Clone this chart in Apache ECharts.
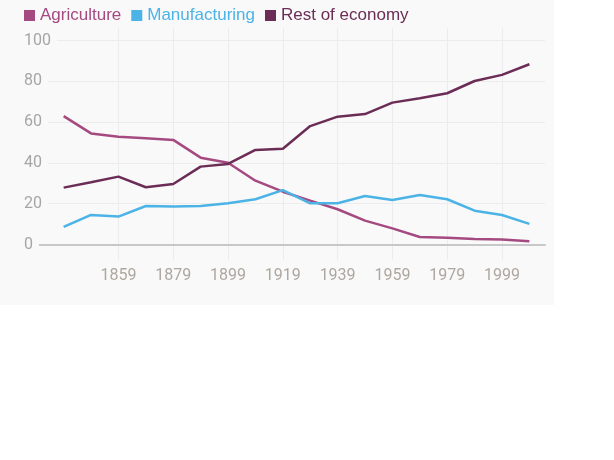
<!DOCTYPE html>
<html>
<head>
<meta charset="utf-8">
<script src="https://cdn.jsdelivr.net/npm/echarts@6/dist/echarts.min.js"></script>
<style>
  html, body { margin: 0; padding: 0; background: #ffffff; }
  #chart { position: absolute; left: 0; top: 0; width: 554px; height: 305px; }
</style>
</head>
<body>
<div id="chart"></div>
<script>
const years = [1839, 1849, 1859, 1869, 1879, 1889, 1899, 1909, 1919, 1929, 1939, 1949, 1959, 1969, 1979, 1989, 1999, 2009];
const agriculture = [63.0, 54.5, 52.9, 52.1, 51.3, 42.6, 40.1, 31.3, 25.9, 21.5, 17.3, 11.7, 7.9, 3.7, 3.3, 2.7, 2.4, 1.6];
const manufacturing = [8.6, 14.5, 13.7, 18.9, 18.6, 18.9, 20.2, 22.2, 26.7, 20.2, 20.2, 23.8, 21.8, 24.3, 22.2, 16.6, 14.5, 10.1];
const restOfEconomy = [27.9, 30.5, 33.3, 28.1, 29.7, 38.2, 39.5, 46.4, 47.0, 58.1, 62.7, 64.0, 69.6, 71.7, 74.2, 80.2, 83.2, 88.4];
const xTicks = [1859, 1879, 1899, 1919, 1939, 1959, 1979, 1999];
const yTicks = [0, 20, 40, 60, 80, 100];
const seriesNames = ['Agriculture', 'Manufacturing', 'Rest of economy'];
const colors = ['#a54a80', '#4cb3e6', '#6b2d56'];

const tickFont = "Roboto, 'Liberation Sans', sans-serif";
const pair = arr => years.map((y, i) => [y, arr[i]]);
const values = [agriculture, manufacturing, restOfEconomy];

const chart = echarts.init(document.getElementById('chart'), null, { renderer: 'canvas' });
chart.setOption({
  animation: false,
  backgroundColor: '#f9f9f9',
  legend: {
    left: 24, top: 7, padding: 0,
    icon: 'rect', itemWidth: 11, itemHeight: 11, itemGap: 10,
    textStyle: { fontSize: 17, fontFamily: "'Liberation Sans', sans-serif" },
    data: seriesNames.map((n, i) => ({ name: n, textStyle: { color: colors[i] } }))
  },
  grid: { left: 39, top: 28, width: 506, height: 232, containLabel: false },
  xAxis: {
    type: 'value', min: 1830, max: 2014.7,
    axisLine: { show: true, onZero: true, lineStyle: { color: '#c8c8c8', width: 2 } },
    axisTick: { show: false, customValues: xTicks },
    axisLabel: {
      customValues: xTicks, margin: 8,
      formatter: v => String(v),
      fontSize: 16, fontFamily: tickFont, color: '#aea79f'
    },
    splitLine: { show: true, lineStyle: { color: '#ececec', width: 1 } }
  },
  yAxis: {
    type: 'value', min: -7.6, max: 106.2,
    axisLine: { show: false },
    axisTick: { show: false, customValues: yTicks },
    axisLabel: {
      customValues: yTicks, align: 'left', margin: 15,
      formatter: v => String(v),
      fontSize: 16, fontFamily: tickFont, color: '#a6a6a6',
      backgroundColor: '#f9f9f9', padding: [2, 6, 2, 0]
    },
    splitLine: { show: true, lineStyle: { color: '#ececec', width: 1 } }
  },
  series: seriesNames.map((n, i) => ({
    name: n, type: 'line', data: pair(values[i]),
    symbol: 'none', showSymbol: false,
    lineStyle: { width: 2.5, color: colors[i] },
    itemStyle: { color: colors[i] }
  }))
});
</script>
</body>
</html>
